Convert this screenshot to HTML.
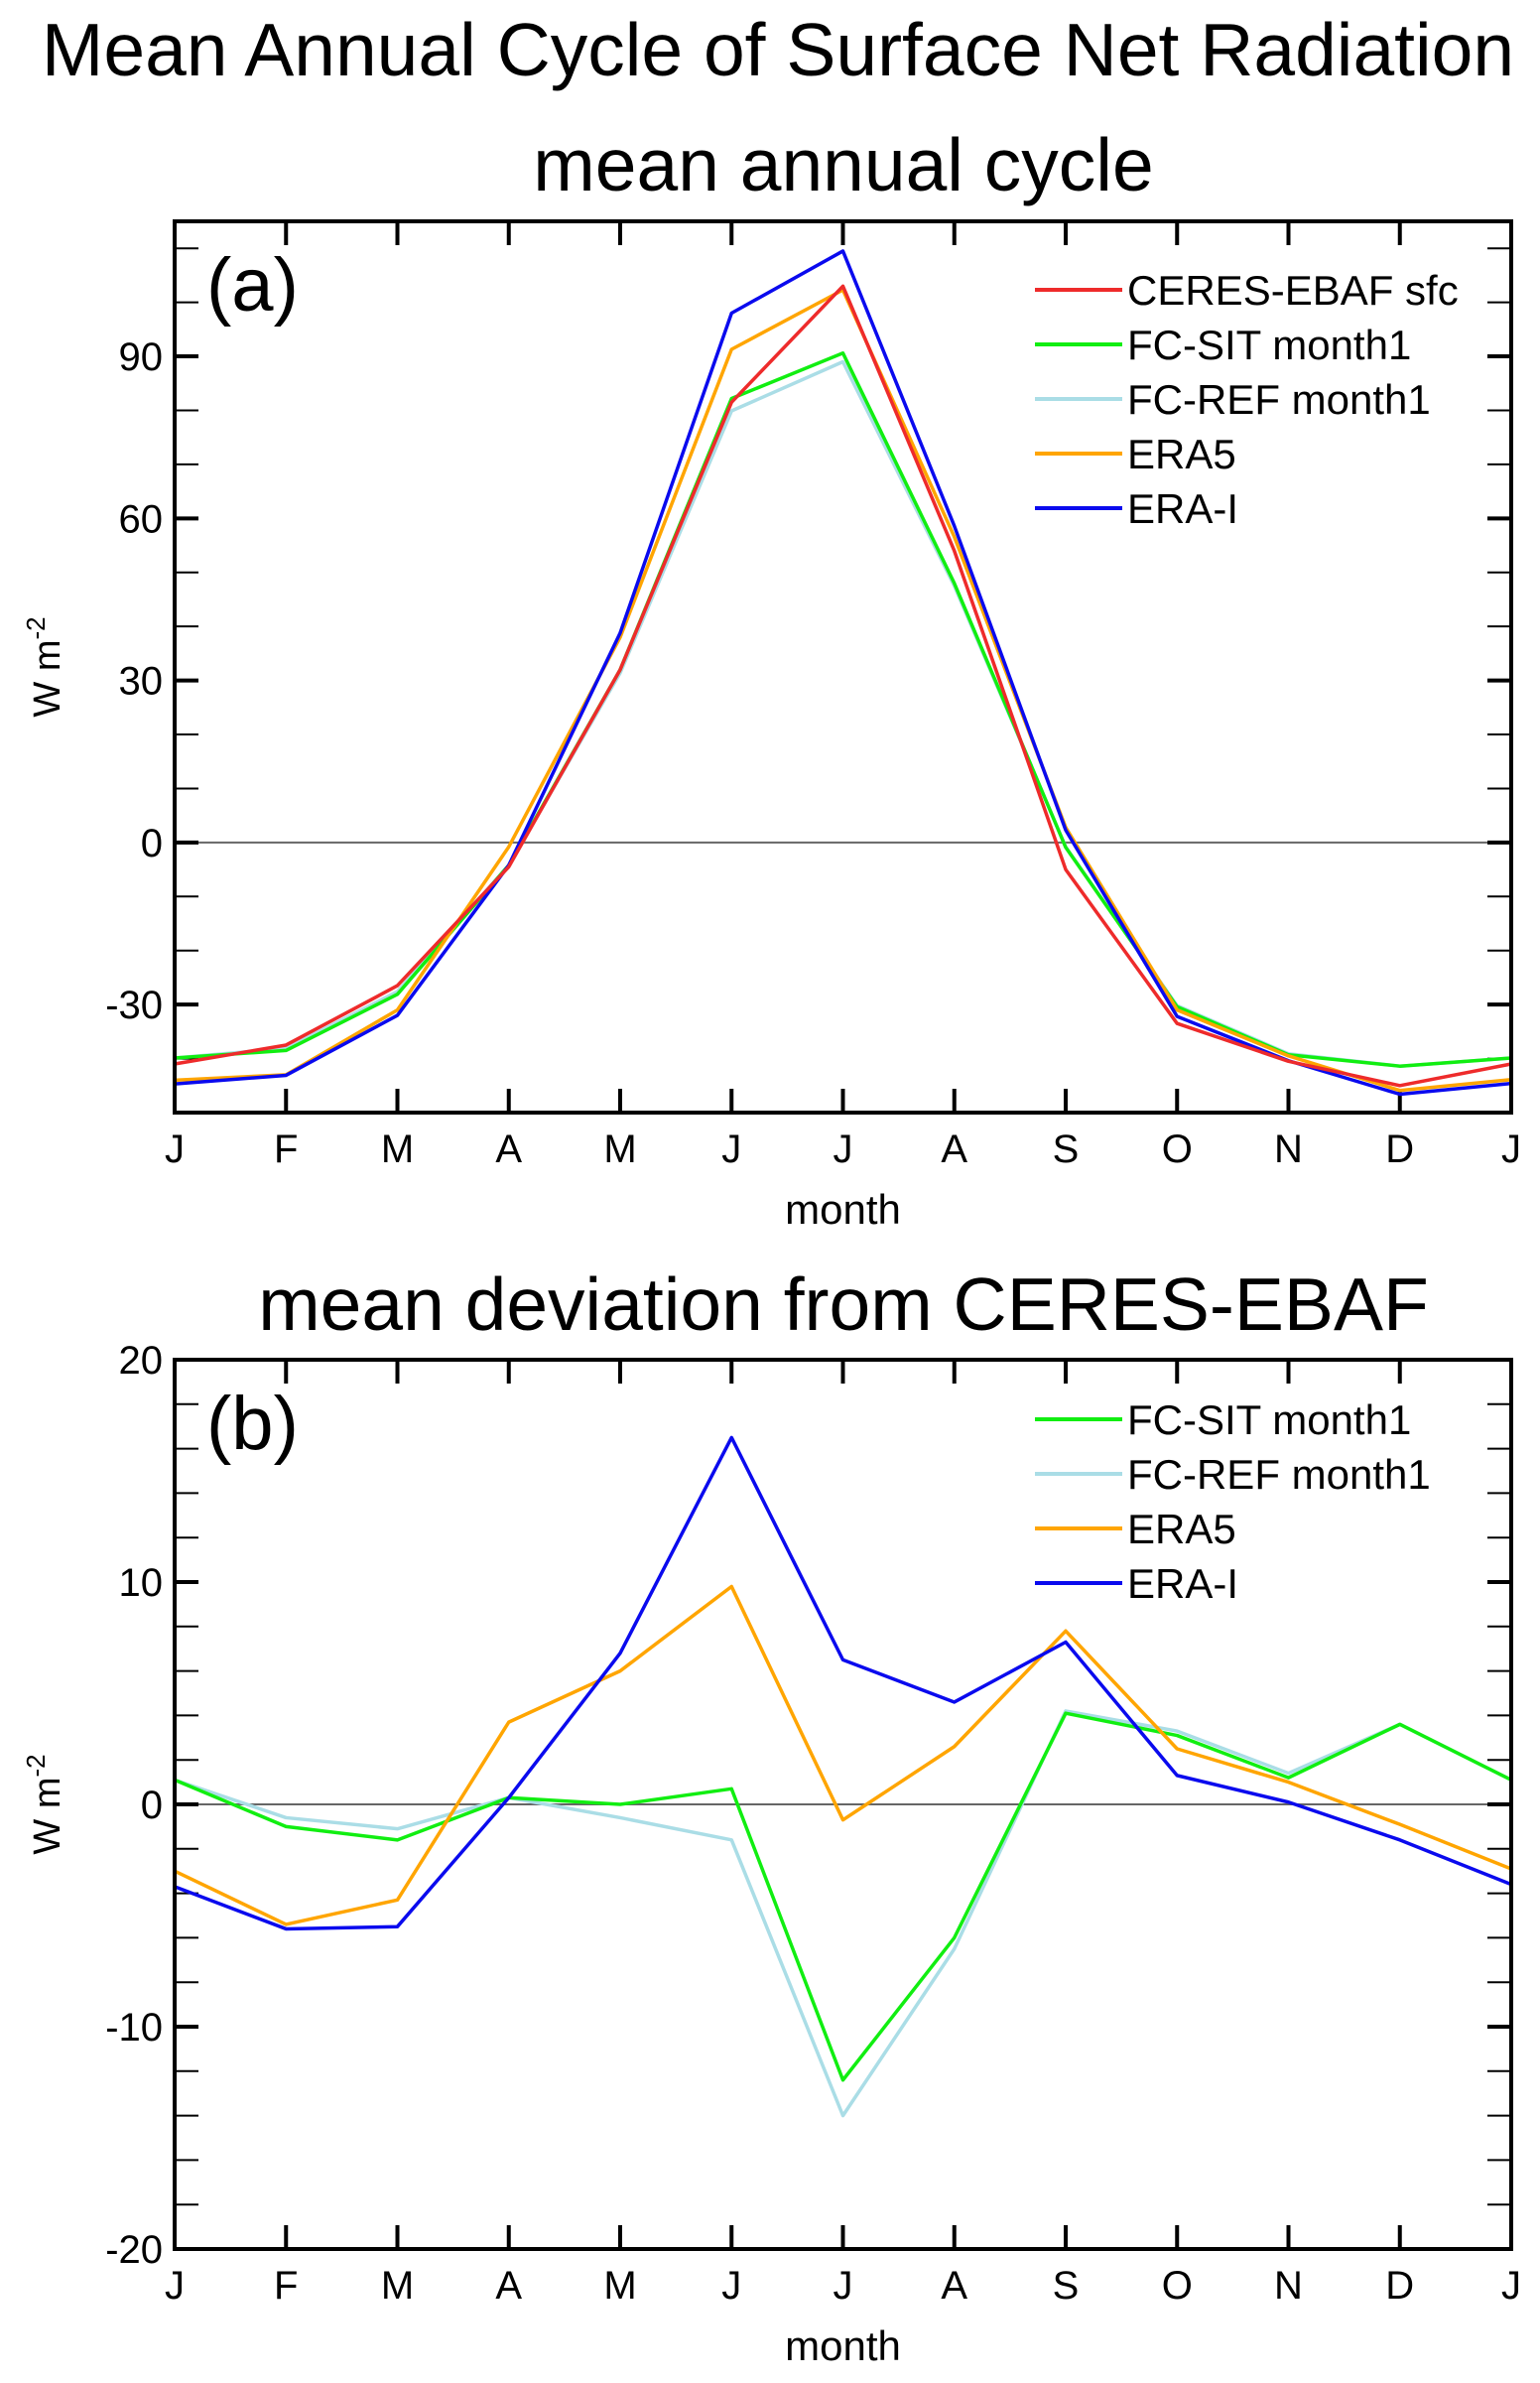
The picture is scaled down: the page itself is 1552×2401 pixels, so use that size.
<!DOCTYPE html>
<html><head><meta charset="utf-8"><style>
html,body{margin:0;padding:0;background:#fff}
svg{display:block;font-family:"Liberation Sans",sans-serif}
</style></head><body>
<svg id="chart" width="1552" height="2401" viewBox="0 0 1552 2401" xmlns="http://www.w3.org/2000/svg">
<text x="784" y="76" font-size="75" text-anchor="middle">Mean Annual Cycle of Surface Net Radiation</text>
<text x="850" y="192" font-size="75" text-anchor="middle">mean annual cycle</text>
<text x="850" y="1340" font-size="75" text-anchor="middle">mean deviation from CERES-EBAF</text>
<g id="pa"></g>
<g id="pb"></g>
</svg>
<script>
const months = ["J","F","M","A","M","J","J","A","S","O","N","D","J"];
const ceres = [-41,-37.5,-26.5,-4.5,32,81.5,103,54,-5,-33.5,-40.5,-45,-41];
const fcsitA = [-39.9,-38.5,-28.1,-4.2,32,82.2,90.6,48,-0.9,-30.4,-39.3,-41.4,-39.9];
const fcrefA = [-39.9,-38.1,-27.6,-4.2,31.4,79.9,89,47.5,-0.8,-30.2,-39.1,-41.4,-39.9];
const era5A = [-44,-43,-31,-0.8,38,91.3,102.3,56.6,2.8,-31,-39.5,-45.9,-43.9];
const eraiA = [-44.7,-43.1,-32,-4.2,38.8,98,109.5,58.6,2.3,-32.2,-40.4,-46.6,-44.6];
const fcsitB = [1.1,-1.0,-1.6,0.3,0.0,0.7,-12.4,-6.0,4.1,3.1,1.2,3.6,1.1];
const fcrefB = [1.1,-0.6,-1.1,0.3,-0.6,-1.6,-14.0,-6.5,4.2,3.3,1.4,3.6,1.1];
const era5B = [-3.0,-5.4,-4.3,3.7,6.0,9.8,-0.7,2.6,7.8,2.5,1.0,-0.9,-2.9];
const eraiB = [-3.7,-5.6,-5.5,0.3,6.8,16.5,6.5,4.6,7.3,1.3,0.1,-1.6,-3.6];
const yTicksA = [-30,0,30,60,90];
const yTicksB = [-20,-10,0,10,20];

const NS="http://www.w3.org/2000/svg";
function mk(p,t,a){const e=document.createElementNS(NS,t);for(const k in a)e.setAttribute(k,a[k]);p.appendChild(e);return e;}

function panel(g,top,bot,ymin,ymax,minorStep,yTicks,series,drawOrder,label,legTop){
  const L=176,R=1523;
  const xs=i=>L+(R-L)*i/12;
  const ys=v=>bot-(v-ymin)/(ymax-ymin)*(bot-top);
  const z=mk(g,'line',{x1:L,x2:R,y1:ys(0),y2:ys(0),stroke:'#666','stroke-width':2});
  
  
  for(let v=Math.ceil(ymin/minorStep)*minorStep;v<=ymax;v+=minorStep){
    const maj=yTicks.includes(v);
    [[L,L+24],[R,R-24]].forEach(([a,b])=>{
      const t=mk(g,'line',{x1:a,x2:b,y1:ys(v),y2:ys(v),stroke:'#000','stroke-width':maj?4:2});
      
      
    });
  }
  yTicks.forEach(v=>{
    const t=mk(g,'text',{x:L-12,y:ys(v)+14,'font-size':40,'text-anchor':'end'});
    t.textContent=v;
    
    
  });
  months.forEach((m,i)=>{
    [[bot,bot-24],[top,top+24]].forEach(([a,b])=>{
      const t=mk(g,'line',{x1:xs(i),x2:xs(i),y1:a,y2:b,stroke:'#000','stroke-width':4});
      
      
    });
    const t=mk(g,'text',{x:xs(i),y:bot+50,'font-size':40,'text-anchor':'middle'});
    t.textContent=m;
    
    
  });
  drawOrder.forEach(k=>{
    const s=series[k];
    const p=mk(g,'polyline',{points:s.d.map((v,i)=>xs(i)+','+ys(v)).join(' '),fill:'none',stroke:s.c,'stroke-width':3.5,'stroke-linejoin':'round'});
    
    
  });
  const f=mk(g,'rect',{x:L,y:top,width:R-L,height:bot-top,fill:'none',stroke:'#000','stroke-width':4});
  
  
  const pl=mk(g,'text',{x:208,y:top+90,'font-size':76});
  pl.textContent=label;
  
  
  const yl=mk(g,'text',{x:0,y:0,'font-size':38,'text-anchor':'middle',transform:`translate(60,${(top+bot)/2}) rotate(-90)`});
  yl.innerHTML='W m<tspan dy="-15" font-size="26">-2</tspan>';
  
  
  const xl=mk(g,'text',{x:(L+R)/2,y:bot+112,'font-size':42,'text-anchor':'middle'});
  xl.textContent='month';
  
  
  series.forEach((s,i)=>{
    const y=legTop+i*55;
    const l=mk(g,'line',{x1:1043,x2:1131,y1:y,y2:y,stroke:s.c,'stroke-width':4});
    
    
    const t=mk(g,'text',{x:1136,y:y+15,'font-size':42});
    t.textContent=s.n;
    
    
  });
}
const RED='#ee2b2b',GRN='#11ee11',LB='#aadde6',OR='#ffa500',BL='#0a0aee';
panel(document.getElementById('pa'),223,1121,-50,115,10,yTicksA,[
 {id:'ceres',n:'CERES-EBAF sfc',c:RED,d:ceres},{id:'fc-sit',n:'FC-SIT month1',c:GRN,d:fcsitA},{id:'fc-ref',n:'FC-REF month1',c:LB,d:fcrefA},{id:'era5',n:'ERA5',c:OR,d:era5A},{id:'era-i',n:'ERA-I',c:BL,d:eraiA}
],[2,1,3,4,0],'(a)',292);
panel(document.getElementById('pb'),1370,2266,-20,20,2,yTicksB,[
 {id:'fc-sit',n:'FC-SIT month1',c:GRN,d:fcsitB},{id:'fc-ref',n:'FC-REF month1',c:LB,d:fcrefB},{id:'era5',n:'ERA5',c:OR,d:era5B},{id:'era-i',n:'ERA-I',c:BL,d:eraiB}
],[1,0,2,3],'(b)',1430);
</script>
</body></html>
